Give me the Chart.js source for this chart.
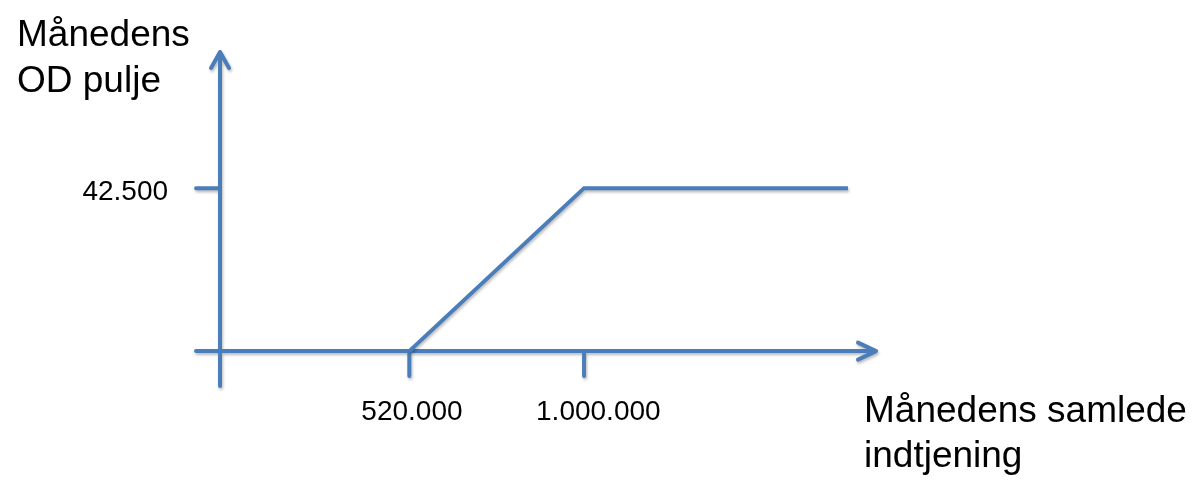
<!DOCTYPE html>
<html lang="da">
<head>
    <meta charset="UTF-8">
    <title>Månedens OD pulje</title>
    <script src="https://cdn.jsdelivr.net/npm/chart.js"></script>
    <style>
        body { margin: 0; background: #fff; }
    </style>
</head>
<body>
    <canvas id="odChart" width="1192" height="483"></canvas>

    <script>
        // line points: earnings -> pool
        const earnings = [520000, 1000000, 1725000];
        const pool = [0, 42500, 42500];

        const xTicks = [520000, 1000000];
        const xTickLabels = ['520.000', '1.000.000'];
        const yTicks = [42500];
        const yTickLabels = ['42.500'];

        const yTitle = ['Månedens', 'OD pulje'];
        const xTitle = ['Månedens samlede', 'indtjening'];

        const blue = '#4A7EBB';
        const font = '"Liberation Sans", Arial, sans-serif';

        function shadow(ctx) {
            ctx.shadowColor = 'rgba(0,0,0,0.28)';
            ctx.shadowBlur = 3;
            ctx.shadowOffsetX = 1;
            ctx.shadowOffsetY = 2;
        }

        const axesPlugin = {
            id: 'arrowAxes',
            beforeDatasetsDraw(chart) {
                const ctx = chart.ctx;
                const x = chart.scales.x, y = chart.scales.y;
                const x0 = x.getPixelForValue(0), y0 = y.getPixelForValue(0);
                const left = x.getPixelForValue(x.min), right = x.getPixelForValue(x.max);
                const top = y.getPixelForValue(y.max), bottom = y.getPixelForValue(y.min);

                ctx.save();
                shadow(ctx);
                ctx.strokeStyle = blue;
                ctx.lineWidth = 4;
                ctx.lineCap = 'round';
                ctx.lineJoin = 'round';

                ctx.beginPath();
                // y axis + arrow
                ctx.moveTo(x0, bottom);
                ctx.lineTo(x0, top);
                ctx.moveTo(x0 - 9, top + 16);
                ctx.lineTo(x0, top);
                ctx.lineTo(x0 + 9, top + 16);
                // x axis + arrow
                ctx.moveTo(left, y0);
                ctx.lineTo(right, y0);
                ctx.moveTo(right - 18, y0 - 8.5);
                ctx.lineTo(right, y0);
                ctx.lineTo(right - 18, y0 + 8.5);
                // tick marks
                xTicks.forEach(v => {
                    const px = x.getPixelForValue(v);
                    ctx.moveTo(px, y0);
                    ctx.lineTo(px, y0 + 25);
                });
                yTicks.forEach(v => {
                    const py = y.getPixelForValue(v);
                    ctx.moveTo(x0, py);
                    ctx.lineTo(x0 - 24, py);
                });
                ctx.stroke();
                ctx.restore();
            },
            afterDraw(chart) {
                const ctx = chart.ctx;
                const x = chart.scales.x, y = chart.scales.y;
                const x0 = x.getPixelForValue(0), y0 = y.getPixelForValue(0);
                const top = y.getPixelForValue(y.max);
                const right = x.getPixelForValue(x.max);

                ctx.save();
                ctx.fillStyle = '#000';
                ctx.textBaseline = 'alphabetic';

                ctx.font = '28px ' + font;
                ctx.textAlign = 'left';
                xTicks.forEach((v, i) => {
                    ctx.fillText(xTickLabels[i], x.getPixelForValue(v) - 48, y0 + 69);
                });
                ctx.textAlign = 'right';
                yTicks.forEach((v, i) => {
                    ctx.fillText(yTickLabels[i], x0 - 52, y.getPixelForValue(v) + 12);
                });

                ctx.font = '37px ' + font;
                ctx.textAlign = 'left';
                yTitle.forEach((t, i) => ctx.fillText(t, 17, top - 6 + i * 46));
                xTitle.forEach((t, i) => ctx.fillText(t, right - 12, y0 + 71 + i * 45));
                ctx.restore();
            }
        };

        const ctx = document.getElementById('odChart').getContext('2d');
        new Chart(ctx, {
            type: 'scatter',
            data: {
                datasets: [{
                    data: earnings.map((e, i) => ({ x: e, y: pool[i] })),
                    showLine: true,
                    borderColor: blue,
                    borderWidth: 4,
                    pointRadius: 0,
                    borderCapStyle: 'butt',
                    borderJoinStyle: 'miter'
                }]
            },
            options: {
                responsive: false,
                animation: false,
                layout: {
                    padding: { left: 196, right: 316, top: 52, bottom: 97 }
                },
                plugins: {
                    legend: { display: false },
                    tooltip: { enabled: false }
                },
                scales: {
                    x: { type: 'linear', display: false, min: -66000, max: 1802000 },
                    y: { type: 'linear', display: false, min: -9100, max: 78000 }
                }
            },
            plugins: [axesPlugin, {
                id: 'lineShadow',
                beforeDatasetDraw(chart) { chart.ctx.save(); shadow(chart.ctx); },
                afterDatasetDraw(chart) { chart.ctx.restore(); }
            }]
        });
    </script>
</body>
</html>
